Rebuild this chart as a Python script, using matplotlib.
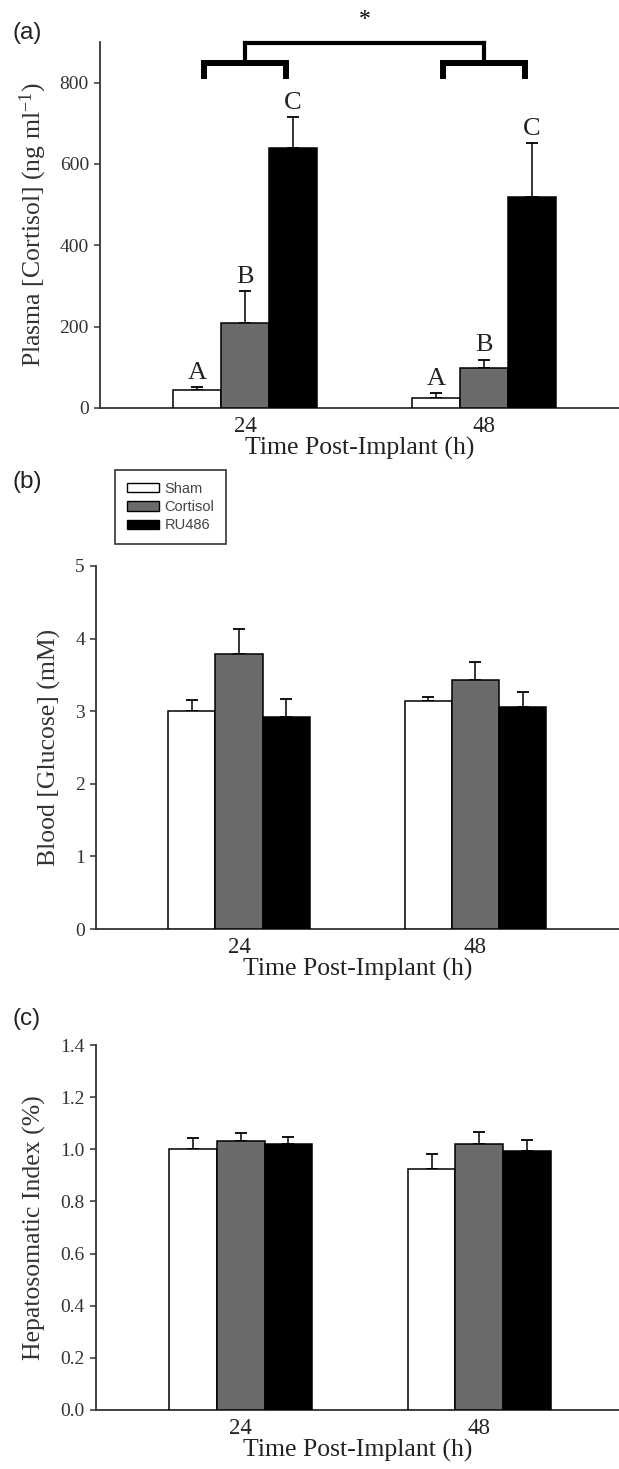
import numpy as np
import matplotlib.pyplot as plt
from matplotlib.patches import Patch

plt.rcParams['font.family'] = 'Liberation Serif'
plt.rcParams['mathtext.fontset'] = 'custom'
plt.rcParams['mathtext.rm'] = 'Liberation Serif'
plt.rcParams['mathtext.it'] = 'Liberation Serif:italic'

# data
times = ['24', '48']
groups = ['Sham', 'Cortisol', 'RU486']
colors = ['white', '#6b6b6b', 'black']

cortisol_mean = [[44, 25], [209, 98], [640, 520]]
cortisol_err = [[8, 11], [78, 21], [76, 131]]
sig_letters = [['A', 'A'], ['B', 'B'], ['C', 'C']]

glucose_mean = [[3.00, 3.14], [3.79, 3.43], [2.92, 3.06]]
glucose_err = [[0.15, 0.06], [0.34, 0.25], [0.25, 0.20]]

hsi_mean = [[1.00, 0.925], [1.033, 1.02], [1.022, 0.995]]
hsi_err = [[0.042, 0.058], [0.028, 0.045], [0.025, 0.040]]

fig = plt.figure(figsize=(6.19, 14.69), dpi=100)
W, H = 619, 1469

def add_ax(left, top, bottom):
    return fig.add_axes([left / W, 1 - bottom / H, 1 - left / W, (bottom - top) / H])

ax_a = add_ax(100, 42, 408)
ax_b = add_ax(96, 566, 929)
ax_c = add_ax(96, 1045, 1410)

x = np.arange(len(times))
width = 0.2
axis_col = '#333333'

def draw_bars(ax, means, errs, xlim, ylim, yticks, ylabel, ylabel_x):
    for i, g in enumerate(groups):
        pos = x + (i - 1) * width
        ax.bar(pos, means[i], width, color=colors[i], edgecolor='black',
               linewidth=1.1, zorder=3)
        ax.errorbar(pos, means[i], yerr=[np.zeros(len(times)), errs[i]],
                    fmt='none', ecolor='black', elinewidth=1.1, capsize=4.3,
                    capthick=1.3, zorder=2)
    ax.set_xlim(*xlim)
    ax.set_ylim(*ylim)
    ax.set_yticks(yticks)
    ax.set_xticks(x)
    ax.set_xticklabels(times)
    for s in ['top', 'right']:
        ax.spines[s].set_visible(False)
    for s in ['left', 'bottom']:
        ax.spines[s].set_color(axis_col)
        ax.spines[s].set_linewidth(1.3)
    ax.tick_params(axis='y', length=4, width=1.1, color=axis_col, pad=4,
                   labelsize=14, labelcolor=axis_col)
    ax.tick_params(axis='x', length=0, pad=6, labelsize=16.5, labelcolor='#222222')
    ax.set_ylabel(ylabel, fontsize=18.5, color='#333333')
    ax.yaxis.set_label_coords(ylabel_x, 0.5)
    ax.set_xlabel('Time Post-Implant (h)', fontsize=18.5, labelpad=0, color='#222222')

draw_bars(ax_a, cortisol_mean, cortisol_err, (-0.607, 1.565), (0, 900),
          np.arange(0, 801, 200), 'Plasma [Cortisol] (ng ml$^{-1}$)', -0.098)
draw_bars(ax_b, glucose_mean, glucose_err, (-0.605, 1.607), (0, 5),
          np.arange(0, 6, 1), 'Blood [Glucose] (mM)', -0.067)
draw_bars(ax_c, hsi_mean, hsi_err, (-0.606, 1.585), (0, 1.4),
          np.arange(0, 1.41, 0.2), 'Hepatosomatic Index (%)', -0.095)
ax_c.set_yticklabels(['%.1f' % v for v in np.arange(0, 1.41, 0.2)])

# letters above bars in (a)
for i in range(len(groups)):
    for j in range(len(times)):
        ax_a.text(x[j] + (i - 1) * width, cortisol_mean[i][j] + cortisol_err[i][j] + 20,
                  sig_letters[i][j], ha='center', va='baseline', fontsize=19,
                  color='#222222')

# brackets
for xc in x:
    ax_a.plot([xc - 0.17, xc - 0.17, xc + 0.17, xc + 0.17], [816, 848, 848, 816],
              color='black', lw=4.3, solid_joinstyle='miter', clip_on=False)
    ax_a.plot([xc, xc], [848, 897], color='black', lw=3, clip_on=False)
ax_a.plot([x[0], x[1]], [897, 897], color='black', lw=3, solid_capstyle='projecting',
          clip_on=False)
ax_a.text(0.5, 956, '*', ha='center', va='center', fontsize=17, clip_on=False)

# panel labels
for lab, yy in [('(a)', 33), ('(b)', 482), ('(c)', 1019)]:
    fig.text(13 / W, 1 - yy / H, lab, ha='left', va='center', fontsize=17.5,
             family='Liberation Sans', color='#222222')

# legend
handles = [Patch(facecolor=c, edgecolor='black', linewidth=1.0) for c in colors]
leg = fig.legend(handles, groups, loc='upper left', bbox_to_anchor=(115 / W, 1 - 470 / H),
                 prop={'family': 'Liberation Sans', 'size': 10.5}, frameon=True,
                 fancybox=False, edgecolor='black', borderpad=0.8, borderaxespad=0,
                 handlelength=2.2, handleheight=0.6, handletextpad=0.4,
                 labelspacing=0.3)
leg.get_frame().set_linewidth(1.2)
for t in leg.get_texts():
    t.set_color('#444444')

fig.savefig('out.png', dpi=100)
